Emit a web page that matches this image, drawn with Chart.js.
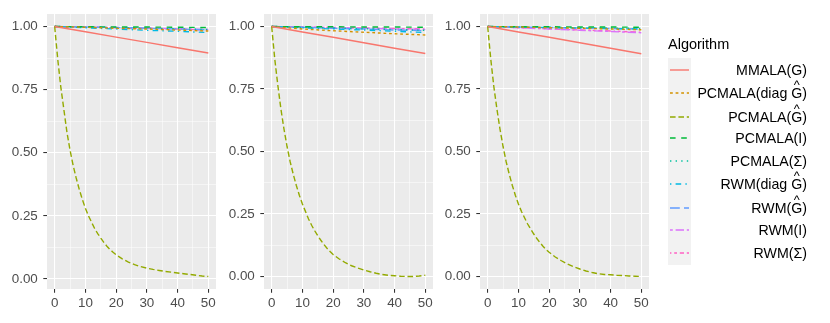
<!DOCTYPE html>
<html>
<head>
<meta charset="utf-8">
<script src="https://cdn.jsdelivr.net/npm/chart.js@4.4.1/dist/chart.umd.min.js"></script>
<style>
  html, body { margin: 0; padding: 0; background: #fff; }
  body { width: 830px; height: 323px; position: relative; overflow: hidden;
         font-family: "Liberation Sans", Arial, sans-serif; }
  .panel { position: absolute; top: 0; }
  #legend { position: absolute; left: 0; top: 0; width: 830px; height: 323px; }
  .lg-title { position: absolute; left: 668px; top: 36px; font-size: 14.5px; color: #000; }
  .lg-keys { position: absolute; left: 668px; top: 58px; width: 23px; height: 207px; background: #F2F2F2; }
  .lg-item { position: absolute; right: 23px; font-size: 14.2px; color: #000; white-space: nowrap;
             transform: translateY(-50%); }
  .hat { position: relative; display: inline-block; }
  .hat i { position: absolute; left: 0; right: 0; top: -0.66em; text-align: center;
           font-style: normal; font-size: 0.9em; }
  svg.key { position: absolute; left: 668px; }
</style>
</head>
<body>
<canvas id="p1" class="panel" style="left:0px" width="219" height="323"></canvas>
<canvas id="p2" class="panel" style="left:217px" width="219" height="323"></canvas>
<canvas id="p3" class="panel" style="left:433px" width="219" height="323"></canvas>
<div id="legend"></div>
<script>
// ---- data ----
const algorithms = ['MMALA(G)', 'PCMALA(diag Ĝ)', 'PCMALA(Ĝ)', 'PCMALA(I)', 'PCMALA(Σ)',
                    'RWM(diag Ĝ)', 'RWM(Ĝ)', 'RWM(I)', 'RWM(Σ)'];
const xTicks = [0, 10, 20, 30, 40, 50];
const yTicks = [0, 0.25, 0.5, 0.75, 1];

const xSparse = [0, 10, 20, 30, 40, 50];
const xDense = [0, 1, 2, 3, 4, 5, 6, 7, 8, 9, 10, 11, 12, 13, 14, 15, 16, 17, 18, 19, 20,
                22, 24, 26, 28, 30, 32, 34, 36, 38, 40, 42, 44, 46, 48, 50];

// one sub-array per panel (left, middle, right)
const mmala = [
  [1.0, 0.979, 0.958, 0.937, 0.916, 0.895],
  [1.0, 0.978, 0.957, 0.935, 0.913, 0.892],
  [1.0, 0.978, 0.957, 0.935, 0.913, 0.891]
];
const pcmalaDiagG = [
  [1.0, 0.997, 0.993, 0.990, 0.986, 0.982],
  [1.0, 0.990, 0.983, 0.977, 0.971, 0.966],
  [1.0, 0.998, 0.995, 0.993, 0.990, 0.987]
];
const pcmalaG = [
  [1.0, 0.87, 0.76, 0.67, 0.58, 0.51, 0.45, 0.40, 0.355, 0.315, 0.28, 0.25, 0.225, 0.20, 0.18, 0.162,
   0.145, 0.13, 0.117, 0.106, 0.096, 0.080, 0.067, 0.057, 0.049, 0.043, 0.038, 0.034, 0.030, 0.027,
   0.024, 0.021, 0.018, 0.015, 0.012, 0.010],
  [1.0, 0.87, 0.765, 0.67, 0.59, 0.52, 0.46, 0.41, 0.365, 0.325, 0.29, 0.26, 0.23, 0.205, 0.183, 0.163,
   0.145, 0.128, 0.113, 0.10, 0.088, 0.07, 0.055, 0.043, 0.034, 0.026, 0.019, 0.013, 0.008, 0.005,
   0.003, 0.001, 0.0, 0.0, 0.002, 0.005],
  [1.0, 0.87, 0.76, 0.67, 0.59, 0.52, 0.46, 0.41, 0.365, 0.325, 0.29, 0.26, 0.235, 0.21, 0.19, 0.17,
   0.152, 0.136, 0.121, 0.108, 0.097, 0.078, 0.063, 0.050, 0.039, 0.030, 0.022, 0.016, 0.011, 0.008,
   0.007, 0.005, 0.004, 0.002, 0.001, 0.0]
];
const pcmalaI = [
  [1.0, 0.999, 0.998, 0.998, 0.997, 0.996],
  [1.0, 0.999, 0.999, 0.998, 0.998, 0.997],
  [1.0, 0.999, 0.999, 0.998, 0.998, 0.997]
];
const pcmalaSigma = [
  [1.0, 0.998, 0.995, 0.993, 0.991, 0.988],
  [1.0, 0.997, 0.994, 0.991, 0.988, 0.985],
  [1.0, 0.998, 0.997, 0.995, 0.994, 0.992]
];
const rwmDiagG = [
  [1.0, 0.995, 0.990, 0.985, 0.981, 0.976],
  [1.0, 0.995, 0.990, 0.986, 0.981, 0.976],
  [1.0, 0.998, 0.996, 0.994, 0.992, 0.990]
];
const rwmG = [
  [1.0, 0.998, 0.996, 0.993, 0.990, 0.987],
  [1.0, 0.997, 0.993, 0.990, 0.986, 0.983],
  [1.0, 0.998, 0.996, 0.994, 0.992, 0.990]
];
const rwmI = [
  [1.0, 0.998, 0.996, 0.994, 0.991, 0.988],
  [1.0, 0.998, 0.995, 0.993, 0.990, 0.988],
  [1.0, 0.995, 0.990, 0.985, 0.980, 0.975]
];
const rwmSigma = [
  [1.0, 0.998, 0.995, 0.993, 0.990, 0.986],
  [1.0, 0.998, 0.996, 0.994, 0.992, 0.990],
  [1.0, 0.995, 0.991, 0.986, 0.982, 0.977]
];
const seriesValues = [mmala, pcmalaDiagG, pcmalaG, pcmalaI, pcmalaSigma, rwmDiagG, rwmG, rwmI, rwmSigma];
const seriesX = [xSparse, xSparse, xDense, xSparse, xSparse, xSparse, xSparse, xSparse, xSparse];

// ---- style ----
const colors = ['#F8766D', '#D39200', '#93AA00', '#00BA38', '#00C19F', '#00B9E3', '#619CFF', '#DB72FB', '#FF61C3'];
const LW = 1.4;
const ltys = [[], [2, 2], [4, 2], [4, 4], [1, 3], [1, 3, 4, 3], [7, 3], [2, 2, 6, 2], [1, 2, 2, 2, 3, 2, 4, 2]];
const dashes = ltys.map(d => d.map(v => v * LW));
const yLimits = [[-0.0395, 1.0495], [-0.05, 1.05], [-0.05, 1.05]];
const tickFont = { family: '"Liberation Sans", Arial, sans-serif', size: 13.4 };

const panelBg = {
  id: 'panelBg',
  beforeDraw(chart) {
    const a = chart.chartArea, c = chart.ctx;
    c.save();
    c.fillStyle = '#EBEBEB';
    c.fillRect(a.left, a.top, a.right - a.left, a.bottom - a.top);
    c.restore();
  }
};

function isMajor(list, v) {
  return list.some(t => Math.abs(t - v) < 1e-9);
}

function makePanel(canvasId, p) {
  const datasets = algorithms.map((name, i) => ({
    label: name,
    data: seriesX[i].map((x, k) => ({ x: x, y: seriesValues[i][p][k] })),
    borderColor: colors[i],
    borderWidth: LW,
    borderDash: dashes[i],
    borderCapStyle: 'butt',
    pointRadius: 0,
    tension: 0,
    fill: false
  }));
  return new Chart(document.getElementById(canvasId), {
    type: 'line',
    data: { datasets: datasets },
    plugins: [panelBg],
    options: {
      responsive: false,
      animation: false,
      events: [],
      layout: { padding: { top: 14, right: 3, left: 0, bottom: 0 } },
      plugins: { legend: { display: false }, tooltip: { enabled: false } },
      scales: {
        x: {
          type: 'linear', min: -2.5, max: 52.5,
          afterBuildTicks: axis => {
            const t = [];
            for (let v = 0; v <= 50; v += 5) t.push({ value: v });
            axis.ticks = t;
          },
          afterFit: s => { s.height = 34; },
          border: { display: false },
          grid: {
            color: '#FFFFFF',
            lineWidth: c => isMajor(xTicks, c.tick.value) ? 1.07 : 0.53,
            tickColor: c => isMajor(xTicks, c.tick.value) ? '#333333' : 'rgba(0,0,0,0)',
            tickWidth: 1.07,
            tickLength: 3.7
          },
          ticks: {
            autoSkip: false, maxRotation: 0, padding: 2.5,
            color: '#4D4D4D',
            font: tickFont,
            callback: v => isMajor(xTicks, v) ? String(v) : ''
          }
        },
        y: {
          type: 'linear', min: yLimits[p][0], max: yLimits[p][1],
          afterBuildTicks: axis => {
            const t = [];
            for (let v = 0; v <= 1.0001; v += 0.125) t.push({ value: Math.round(v * 1000) / 1000 });
            axis.ticks = t;
          },
          afterFit: s => { s.width = 47; },
          border: { display: false },
          grid: {
            color: '#FFFFFF',
            lineWidth: c => isMajor(yTicks, c.tick.value) ? 1.07 : 0.53,
            tickColor: c => isMajor(yTicks, c.tick.value) ? '#333333' : 'rgba(0,0,0,0)',
            tickWidth: 1.07,
            tickLength: 3.7
          },
          ticks: {
            autoSkip: false, padding: 5.5,
            color: '#4D4D4D',
            font: tickFont,
            callback: v => isMajor(yTicks, v) ? v.toFixed(2) : ''
          }
        }
      }
    }
  });
}

makePanel('p1', 0);
makePanel('p2', 1);
makePanel('p3', 2);

// ---- legend ----
const legendY = [70, 93, 117, 138, 161, 184, 208, 230, 253];
function labelHtml(name) {
  return name.replace('Ĝ', '<span class="hat">G<i>^</i></span>');
}
const lg = document.getElementById('legend');
let html = '<div class="lg-title">Algorithm</div><div class="lg-keys"></div>';
algorithms.forEach((name, i) => {
  const y = legendY[i];
  html += '<svg class="key" width="23" height="10" style="top:' + (y - 5) + 'px">' +
          '<line x1="2" y1="5" x2="21" y2="5" stroke="' + colors[i] + '" stroke-width="' + LW + '"' +
          (dashes[i].length ? ' stroke-dasharray="' + dashes[i].join(',') + '"' : '') + '/></svg>';
  html += '<div class="lg-item" style="top:' + y + 'px">' + labelHtml(name) + '</div>';
});
lg.innerHTML = html;
</script>
</body>
</html>
